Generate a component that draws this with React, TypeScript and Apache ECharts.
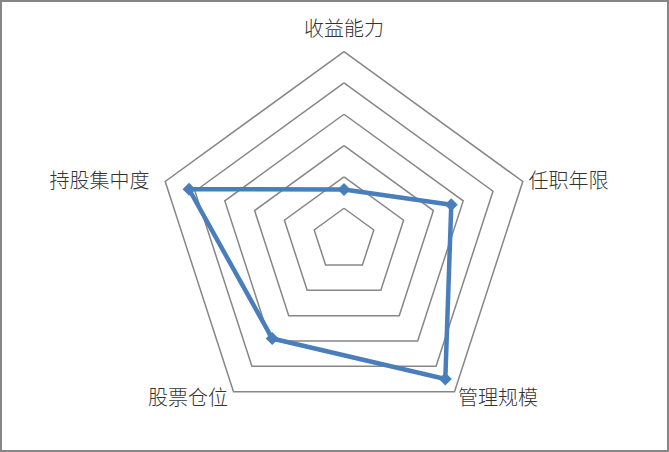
import { useEffect, useRef } from 'react';
import * as echarts from 'echarts';

// ECharts lays indicators out counter-clockwise from the top
const indicatorNames = ['收益能力', '持股集中度', '股票仓位', '管理规模', '任职年限'];
const indicatorMax = 6;
const scoreValues = [1.6, 5.2, 3.9, 5.5, 3.6];

const nameFont = {
  color: '#333333',
  fontSize: 20,
  fontFamily: '"Noto Sans CJK SC", sans-serif',
  fontWeight: 300 as const,
};

// small per-label nudges so the names sit where the reference puts them
const nameStyles: Record<string, object> = {
  n0: { ...nameFont, padding: [0, 0, 8, 0] },
  n1: { ...nameFont, padding: [0, 10, 0, 0] },
  n2: { ...nameFont, padding: [0, 2, 0, 0] },
  n3: { ...nameFont },
  n4: { ...nameFont },
};

export default function App() {
  const elRef = useRef<HTMLDivElement>(null);

  useEffect(() => {
    document.body.style.margin = '0';
    const el = elRef.current;
    if (!el) return;
    const chart = echarts.init(el, undefined, { renderer: 'svg' });

    chart.setOption({
      animation: false,
      backgroundColor: '#ffffff',
      graphic: [
        {
          type: 'rect',
          shape: { x: 1, y: 1, width: 667, height: 450 },
          style: { fill: 'none', stroke: '#868686', lineWidth: 2 },
          silent: true,
        },
      ],
      radar: {
        center: [344, 239.6],
        radius: 188,
        startAngle: 90,
        shape: 'polygon',
        splitNumber: 6,
        nameGap: 6,
        indicator: indicatorNames.map((name) => ({ name, min: 0, max: indicatorMax })),
        axisName: {
          ...nameFont,
          formatter: (name: string) => `{n${indicatorNames.indexOf(name)}|${name}}`,
          rich: nameStyles,
        },
        axisLine: { show: false },
        axisTick: { show: false },
        axisLabel: { show: false },
        splitArea: { show: false },
        splitLine: { lineStyle: { color: '#868686', width: 1.5 } },
      },
      series: [
        {
          type: 'radar',
          symbol: 'diamond',
          symbolSize: 13,
          lineStyle: { color: '#4A7EBB', width: 4.5 },
          itemStyle: { color: '#4A7EBB' },
          data: [{ value: scoreValues, name: '基金经理' }],
        },
      ],
    });

    return () => chart.dispose();
  }, []);

  return <div ref={elRef} style={{ width: 669, height: 452 }} />;
}
